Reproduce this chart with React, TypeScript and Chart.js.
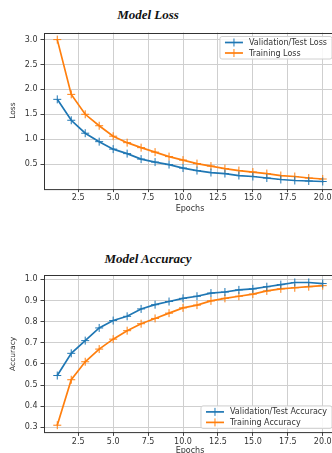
import React, { useEffect, useRef } from "react";
import { Chart, registerables } from "chart.js";

Chart.register(...registerables);

// ---- data ----
const epochs = [1, 2, 3, 4, 5, 6, 7, 8, 9, 10, 11, 12, 13, 14, 15, 16, 17, 18, 19, 20];
const xTicks = [2.5, 5, 7.5, 10, 12.5, 15, 17.5, 20];
const lossTicks = [0.5, 1.0, 1.5, 2.0, 2.5, 3.0];
const accTicks = [0.3, 0.4, 0.5, 0.6, 0.7, 0.8, 0.9, 1.0];

const valLoss = [1.8, 1.38, 1.12, 0.95, 0.8, 0.71, 0.6, 0.54, 0.49, 0.42, 0.37, 0.33, 0.31, 0.27, 0.25, 0.22, 0.19, 0.17, 0.16, 0.15];
const trainLoss = [3.0, 1.9, 1.5, 1.27, 1.06, 0.93, 0.83, 0.74, 0.65, 0.58, 0.51, 0.46, 0.41, 0.37, 0.34, 0.31, 0.27, 0.25, 0.22, 0.2];
const valAcc = [0.545, 0.65, 0.71, 0.77, 0.805, 0.825, 0.86, 0.88, 0.895, 0.91, 0.92, 0.935, 0.94, 0.95, 0.955, 0.965, 0.975, 0.985, 0.985, 0.98];
const trainAcc = [0.31, 0.525, 0.61, 0.67, 0.717, 0.757, 0.79, 0.815, 0.84, 0.865, 0.878, 0.898, 0.91, 0.92, 0.93, 0.945, 0.955, 0.96, 0.965, 0.97];

const BLUE = "#1f77b4";
const ORANGE = "#ff7f0e";
const FONT = '"DejaVu Sans", sans-serif';
const TEXT = "#333333";

const mplPlugin = {
  id: "mplDecor",
  afterDatasetsDraw(chart: any, _args: any, opts: any) {
    const { ctx, chartArea: a } = chart;
    ctx.save();
    // frame
    ctx.strokeStyle = "#333333";
    ctx.lineWidth = 1;
    ctx.strokeRect(Math.round(a.left) + 0.5, Math.round(a.top) + 0.5, a.right - a.left, a.bottom - a.top);
    // legend
    if (opts && opts.loc) {
      ctx.font = "8px " + FONT;
      const items = chart.data.datasets.map((d: any) => ({ label: d.label, color: d.borderColor }));
      const tw = Math.max(...items.map((i: any) => ctx.measureText(i.label).width));
      const pad = 5, handle = 18, gap = 6, rowH = 10.5;
      const w = pad + handle + gap + tw + pad;
      const h = 12 + rowH * (items.length - 1);
      const x = a.right - 4 - w;
      const y = opts.loc === "upper" ? a.top + 4 : a.bottom - 4 - h;
      ctx.beginPath();
      const r = 2;
      ctx.moveTo(x + r, y);
      ctx.lineTo(x + w - r, y);
      ctx.quadraticCurveTo(x + w, y, x + w, y + r);
      ctx.lineTo(x + w, y + h - r);
      ctx.quadraticCurveTo(x + w, y + h, x + w - r, y + h);
      ctx.lineTo(x + r, y + h);
      ctx.quadraticCurveTo(x, y + h, x, y + h - r);
      ctx.lineTo(x, y + r);
      ctx.quadraticCurveTo(x, y, x + r, y);
      ctx.closePath();
      ctx.fillStyle = "rgba(255,255,255,0.85)";
      ctx.fill();
      ctx.strokeStyle = "#d0d0d0";
      ctx.stroke();
      items.forEach((it: any, i: number) => {
        const cy = y + 6 + i * rowH;
        const hx = x + pad;
        ctx.strokeStyle = it.color;
        ctx.lineWidth = 1.7;
        ctx.beginPath();
        ctx.moveTo(hx, cy);
        ctx.lineTo(hx + handle, cy);
        ctx.stroke();
        ctx.lineWidth = 1;
        ctx.beginPath();
        ctx.moveTo(hx + handle / 2, cy - 4);
        ctx.lineTo(hx + handle / 2, cy + 4);
        ctx.stroke();
        ctx.fillStyle = TEXT;
        ctx.textBaseline = "middle";
        ctx.textAlign = "left";
        ctx.fillText(it.label, hx + handle + gap, cy + 0.5);
      });
    }
    ctx.restore();
  },
};

type Cfg = {
  val: number[];
  train: number[];
  valLabel: string;
  trainLabel: string;
  yTicks: number[];
  yMin: number;
  yMax: number;
  yTitle: string;
  height: number;
  padTop: number;
  xAxisH: number;
  xTitlePadBottom: number;
  legendLoc: string;
};

function MplChart({ cfg, top }: { cfg: Cfg; top: number }) {
  const ref = useRef<HTMLCanvasElement | null>(null);
  useEffect(() => {
    if (!ref.current) return;
    const ds = (label: string, data: number[], color: string) => ({
      label,
      data: epochs.map((e, i) => ({ x: e, y: data[i] })),
      borderColor: color,
      backgroundColor: color,
      borderWidth: 1.7,
      pointStyle: "cross",
      pointRadius: 4,
      pointBorderWidth: 1,
      pointBorderColor: color,
      tension: 0,
      fill: false,
    });
    const chart = new Chart(ref.current, {
      type: "line",
      data: {
        datasets: [ds(cfg.valLabel, cfg.val, BLUE), ds(cfg.trainLabel, cfg.train, ORANGE)] as any,
      },
      plugins: [mplPlugin],
      options: {
        animation: false,
        responsive: false,
        devicePixelRatio: 1,
        layout: { padding: { top: cfg.padTop, right: 10, bottom: 0, left: 0 } },
        plugins: {
          legend: { display: false },
          tooltip: { enabled: false },
          mplDecor: { loc: cfg.legendLoc },
        } as any,
        scales: {
          x: {
            type: "linear",
            min: 0.05,
            max: 20.95,
            afterBuildTicks: (s: any) => {
              s.ticks = xTicks.map((v) => ({ value: v }));
            },
            afterFit: (s: any) => {
              s.height = cfg.xAxisH;
            },
            grid: { color: "#cfcfcf", lineWidth: 1, drawTicks: true, tickLength: 3.5, tickColor: "#444444" },
            border: { display: false },
            ticks: {
              autoSkip: false,
              maxRotation: 0,
              padding: 1.5,
              color: TEXT,
              font: { size: 8, family: FONT },
              callback: (v: any) => Number(v).toFixed(1),
            },
            title: {
              display: true,
              text: "Epochs",
              color: TEXT,
              font: { size: 8, family: FONT },
              padding: { top: 0, bottom: cfg.xTitlePadBottom },
            },
          },
          y: {
            type: "linear",
            min: cfg.yMin,
            max: cfg.yMax,
            afterBuildTicks: (s: any) => {
              s.ticks = cfg.yTicks.map((v) => ({ value: v }));
            },
            afterFit: (s: any) => {
              s.width = 44;
            },
            grid: { color: "#cfcfcf", lineWidth: 1, drawTicks: true, tickLength: 3.5, tickColor: "#444444" },
            border: { display: false },
            ticks: {
              padding: 3,
              color: TEXT,
              font: { size: 8, family: FONT },
              callback: (v: any) => Number(v).toFixed(1),
            },
            title: {
              display: true,
              text: cfg.yTitle,
              color: TEXT,
              font: { size: 7.5, family: FONT },
              padding: { top: 9, bottom: 0 },
            },
          },
        },
      } as any,
    });
    return () => chart.destroy();
  }, []);
  return (
    <canvas
      ref={ref}
      width={346}
      height={cfg.height}
      style={{ position: "absolute", left: 0, top, width: 346, height: cfg.height }}
    />
  );
}

const lossCfg: Cfg = {
  val: valLoss,
  train: trainLoss,
  valLabel: "Validation/Test Loss",
  trainLabel: "Training Loss",
  yTicks: lossTicks,
  yMin: 0.0075,
  yMax: 3.1425,
  yTitle: "Loss",
  height: 215,
  padTop: 32.5,
  xAxisH: 26.4,
  xTitlePadBottom: 1.2,
  legendLoc: "upper",
};

const accCfg: Cfg = {
  val: valAcc,
  train: trainAcc,
  valLabel: "Validation/Test Accuracy",
  trainLabel: "Training Accuracy",
  yTicks: accTicks,
  yMin: 0.276,
  yMax: 1.019,
  yTitle: "Accuracy",
  height: 230,
  padTop: 45.3,
  xAxisH: 27.6,
  xTitlePadBottom: 4,
  legendLoc: "lower",
};

const titleStyle: React.CSSProperties = {
  position: "absolute",
  left: 0,
  width: 296,
  textAlign: "center",
  fontFamily: '"Liberation Serif", serif',
  fontStyle: "italic",
  fontWeight: "bold",
  fontSize: 13,
  lineHeight: "16px",
  color: "#111111",
};

export default function App() {
  return (
    <div
      style={{
        position: "fixed",
        left: 0,
        top: 0,
        width: 332,
        height: 453,
        overflow: "hidden",
        background: "#ffffff",
      }}
    >
      <div style={{ ...titleStyle, top: 7 }}>Model Loss</div>
      <MplChart cfg={lossCfg} top={0} />
      <div style={{ ...titleStyle, top: 251 }}>Model Accuracy</div>
      <MplChart cfg={accCfg} top={230} />
    </div>
  );
}
